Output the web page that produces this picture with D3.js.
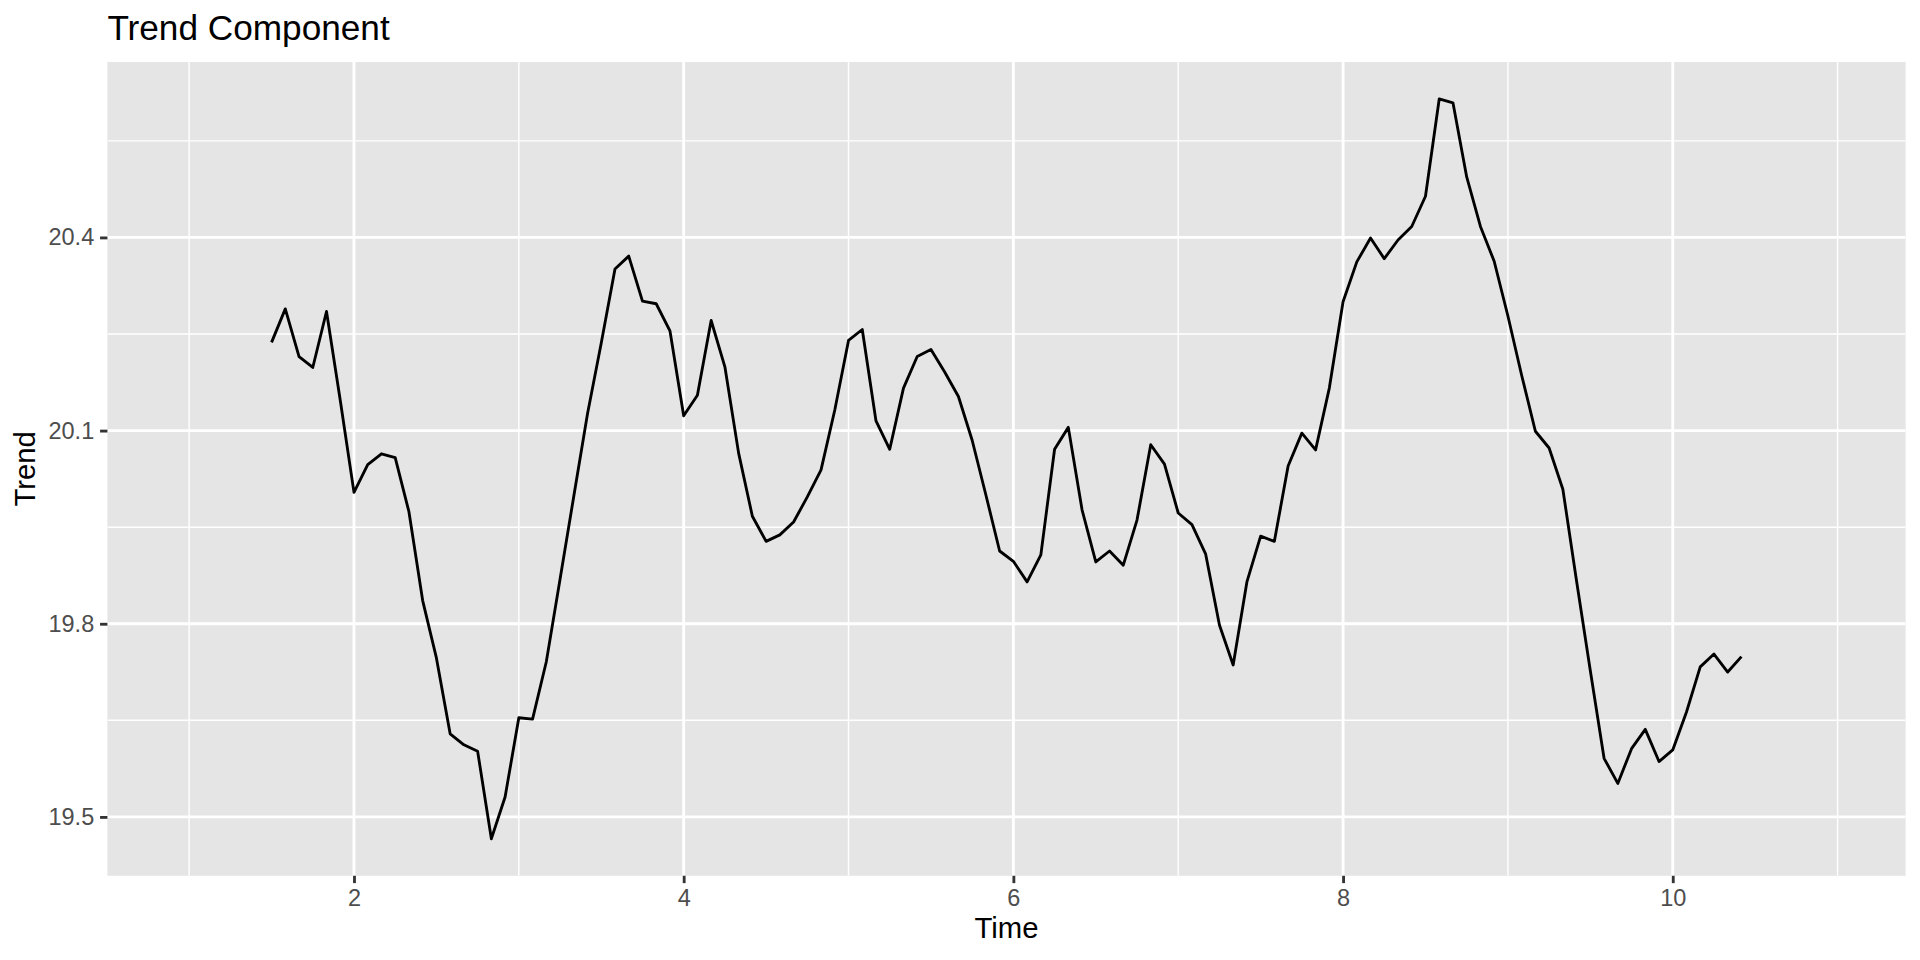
<!DOCTYPE html>
<html>
<head>
<meta charset="utf-8">
<script src="https://cdn.jsdelivr.net/npm/d3@7"></script>
<style>
  body { margin: 0; background: #ffffff; }
  svg text { font-family: "Liberation Sans", Arial, Helvetica, sans-serif; }
</style>
</head>
<body>
<svg id="chart" width="1920" height="960"></svg>
<script>
// ---- data (monthly series, frequency 12, starting at time 1) ----
const seriesStart = 1;
const seriesFrequency = 12;
// trend component (NA for the first and last 6 months, as in a moving-average decomposition)
const trend = [
  null, null, null, null, null, null,
  20.237, 20.289, 20.215, 20.198, 20.285, 20.147,
  20.004, 20.047, 20.064, 20.058, 19.974, 19.836, 19.747, 19.629, 19.612, 19.602, 19.466, 19.531,
  19.654, 19.652, 19.741, 19.869, 19.998, 20.126, 20.236, 20.351, 20.371, 20.301, 20.297, 20.255,
  20.123, 20.155, 20.271, 20.199, 20.065, 19.967, 19.928, 19.938, 19.958, 19.997, 20.039, 20.132,
  20.240, 20.257, 20.115, 20.071, 20.166, 20.215, 20.226, 20.191, 20.153, 20.085, 20.000, 19.913,
  19.897, 19.865, 19.907, 20.071, 20.105, 19.977, 19.896, 19.913, 19.891, 19.961, 20.078, 20.048,
  19.972, 19.954, 19.908, 19.798, 19.736, 19.865, 19.936, 19.928, 20.045, 20.096, 20.070, 20.166,
  20.300, 20.362, 20.399, 20.367, 20.396, 20.417, 20.464, 20.615, 20.609, 20.494, 20.417, 20.363,
  20.278, 20.186, 20.099, 20.073, 20.009, 19.866, 19.727, 19.591, 19.552, 19.606, 19.636, 19.586,
  19.604, 19.663, 19.733, 19.753, 19.725, 19.749,
  null, null, null, null, null, null
];
const xBreaks = [2, 4, 6, 8, 10];
const xTickLabels = ["2", "4", "6", "8", "10"];
const xMinorBreaks = [1, 3, 5, 7, 9, 11];
const yBreaks = [19.5, 19.8, 20.1, 20.4];
const yTickLabels = ["19.5", "19.8", "20.1", "20.4"];
const yMinorBreaks = [19.65, 19.95, 20.25, 20.55];
const titleText = "Trend Component";
const xTitleText = "Time";
const yTitleText = "Trend";

// ---- layout ----
const panel = { left: 107.4, right: 1905.6, top: 62, bottom: 875.8 };
const tickLen = 7.33, tickPad = 5.87;
const lineW = 2.85;

const data = trend.map((v, i) => ({ t: seriesStart + i / seriesFrequency, v: v }));

function expand(ext, mult) {
  const d = (ext[1] - ext[0]) * mult;
  return [ext[0] - d, ext[1] + d];
}
const xExt = d3.extent(data, d => d.t);
const yExt = d3.extent(data.filter(d => d.v != null), d => d.v);

const x = d3.scaleLinear().domain(expand(xExt, 0.05)).range([panel.left, panel.right]);
const y = d3.scaleLinear().domain(expand(yExt, 0.05)).range([panel.bottom, panel.top]);

const svg = d3.select("#chart");

// panel background
svg.append("rect")
  .attr("x", panel.left).attr("y", panel.top)
  .attr("width", panel.right - panel.left).attr("height", panel.bottom - panel.top)
  .attr("fill", "#E5E5E5");

svg.append("clipPath").attr("id", "clip").append("rect")
  .attr("x", panel.left).attr("y", panel.top)
  .attr("width", panel.right - panel.left).attr("height", panel.bottom - panel.top);

const grid = svg.append("g").attr("clip-path", "url(#clip)");

// minor grid
grid.selectAll(".xminor").data(xMinorBreaks).join("line")
  .attr("x1", d => x(d)).attr("x2", d => x(d))
  .attr("y1", panel.top).attr("y2", panel.bottom)
  .attr("stroke", "#ffffff").attr("stroke-width", lineW / 2);
grid.selectAll(".yminor").data(yMinorBreaks).join("line")
  .attr("y1", d => y(d)).attr("y2", d => y(d))
  .attr("x1", panel.left).attr("x2", panel.right)
  .attr("stroke", "#ffffff").attr("stroke-width", lineW / 2);
// major grid
grid.selectAll(".xmajor").data(xBreaks).join("line")
  .attr("x1", d => x(d)).attr("x2", d => x(d))
  .attr("y1", panel.top).attr("y2", panel.bottom)
  .attr("stroke", "#ffffff").attr("stroke-width", lineW);
grid.selectAll(".ymajor").data(yBreaks).join("line")
  .attr("y1", d => y(d)).attr("y2", d => y(d))
  .attr("x1", panel.left).attr("x2", panel.right)
  .attr("stroke", "#ffffff").attr("stroke-width", lineW);

// trend line
const line = d3.line()
  .defined(d => d.v != null)
  .x(d => x(d.t))
  .y(d => y(d.v));
svg.append("path")
  .datum(data)
  .attr("d", line)
  .attr("fill", "none")
  .attr("stroke", "#000000")
  .attr("stroke-width", lineW)
  .attr("stroke-linejoin", "round")
  .attr("stroke-linecap", "butt")
  .attr("clip-path", "url(#clip)");

// axes
const xAxis = d3.axisBottom(x)
  .tickValues(xBreaks)
  .tickFormat((d, i) => xTickLabels[i])
  .tickSize(tickLen).tickPadding(tickPad);
const gx = svg.append("g").attr("transform", `translate(0,${panel.bottom})`).call(xAxis);
gx.select(".domain").remove();
gx.selectAll(".tick line").attr("stroke", "#333333").attr("stroke-width", lineW);
gx.selectAll(".tick text").attr("fill", "#4D4D4D").attr("font-size", 23.5)
  .style("font-family", '"Liberation Sans", Arial, Helvetica, sans-serif');

const yAxis = d3.axisLeft(y)
  .tickValues(yBreaks)
  .tickFormat((d, i) => yTickLabels[i])
  .tickSize(tickLen).tickPadding(tickPad);
const gy = svg.append("g").attr("transform", `translate(${panel.left},0)`).call(yAxis);
gy.select(".domain").remove();
gy.selectAll(".tick line").attr("stroke", "#333333").attr("stroke-width", lineW);
gy.selectAll(".tick text").attr("fill", "#4D4D4D").attr("font-size", 23.5)
  .style("font-family", '"Liberation Sans", Arial, Helvetica, sans-serif');

// titles
svg.append("text")
  .attr("x", panel.left).attr("y", 40)
  .attr("font-size", 35.2).attr("fill", "#000000")
  .text(titleText);

svg.append("text")
  .attr("x", (panel.left + panel.right) / 2).attr("y", 938)
  .attr("text-anchor", "middle")
  .attr("font-size", 29.3).attr("fill", "#000000")
  .text(xTitleText);

svg.append("text")
  .attr("transform", `translate(35,${(panel.top + panel.bottom) / 2}) rotate(-90)`)
  .attr("text-anchor", "middle")
  .attr("font-size", 29.3).attr("fill", "#000000")
  .text(yTitleText);
</script>
</body>
</html>
